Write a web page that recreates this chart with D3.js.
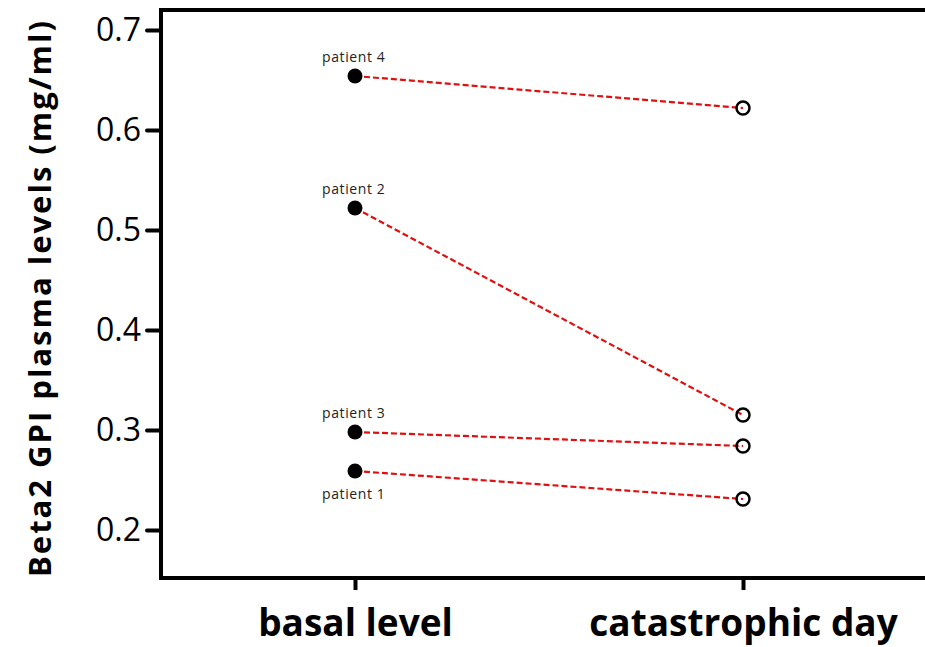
<!DOCTYPE html>
<html>
<head>
<meta charset="utf-8">
<script src="https://cdn.jsdelivr.net/npm/d3@7"></script>
<style>
  body { margin: 0; background: #fff; }
  text { font-family: "Open Sans", "Noto Sans", sans-serif; }
</style>
</head>
<body>
<div id="chart"></div>
<script>
const groups = ['basal level', 'catastrophic day']
const patients = ['patient 1', 'patient 2', 'patient 3', 'patient 4']
const basal = [0.259, 0.522, 0.298, 0.654]
const catastrophic = [0.231, 0.315, 0.284, 0.622]
const yTicks = [0.2, 0.3, 0.4, 0.5, 0.6, 0.7]

const w = 925, h = 647
const plotLeft = 161, plotTop = 10, plotBottom = 578

const svg = d3.select('#chart').append('svg')
              .attr('width', w)
              .attr('height', h)

const yScale = d3.scaleLinear()
                 .domain([0.152, 0.72])
                 .range([plotBottom, plotTop])

const xScale = d3.scalePoint()
                 .domain(groups)
                 .range([355, 743])

// frame: left, top and bottom only
svg.append('path')
   .attr('d', `M${w + 5},${plotTop} H${plotLeft} V${plotBottom} H${w + 5}`)
   .attr('fill', 'none')
   .attr('stroke', '#000')
   .attr('stroke-width', 4)

const yAxis = svg.append('g')
                 .attr('transform', `translate(${plotLeft}, 0)`)
                 .call(d3.axisLeft(yScale).tickValues(yTicks).tickSize(14).tickPadding(6).tickFormat(d3.format('.1f')))
yAxis.select('.domain').remove()
yAxis.selectAll('.tick line').attr('stroke-width', 4).attr('stroke-linecap', 'round')
yAxis.selectAll('.tick text').attr('font-size', 32).attr('fill', '#000')
     .style('font-family', '"Open Sans", sans-serif')

const xAxis = svg.append('g')
                 .attr('transform', `translate(0, ${plotBottom})`)
                 .call(d3.axisBottom(xScale).tickSize(12).tickPadding(20))
xAxis.select('.domain').remove()
xAxis.selectAll('.tick line').attr('stroke-width', 4)
xAxis.selectAll('.tick text').attr('font-size', 37).attr('font-weight', 'bold').attr('fill', '#000')
     .style('font-family', '"Open Sans", sans-serif')

svg.append('text')
   .attr('transform', 'rotate(-90)')
   .attr('x', -299)
   .attr('y', 51)
   .attr('text-anchor', 'middle')
   .attr('font-size', 31)
   .attr('font-weight', 'bold')
   .attr('textLength', 556)
   .attr('lengthAdjust', 'spacing')
   .text('Beta2 GPI plasma levels (mg/ml)')

const rows = patients.map((p, i) => ({ name: p, a: basal[i], b: catastrophic[i] }))

svg.selectAll('.link')
   .data(rows)
   .enter()
   .append('line')
   .attr('x1', xScale(groups[0]))
   .attr('x2', xScale(groups[1]))
   .attr('y1', (d) => yScale(d.a))
   .attr('y2', (d) => yScale(d.b))
   .attr('stroke', '#e01010')
   .attr('stroke-width', 2.2)
   .attr('stroke-dasharray', '6,3')

svg.selectAll('.filled')
   .data(rows)
   .enter()
   .append('circle')
   .attr('cx', xScale(groups[0]))
   .attr('cy', (d) => yScale(d.a))
   .attr('r', 7.5)
   .attr('fill', '#000')

svg.selectAll('.open')
   .data(rows)
   .enter()
   .append('circle')
   .attr('cx', xScale(groups[1]))
   .attr('cy', (d) => yScale(d.b))
   .attr('r', 6.5)
   .attr('fill', 'none')
   .attr('stroke', '#000')
   .attr('stroke-width', 2.5)

svg.selectAll('.plabel')
   .data(rows)
   .enter()
   .append('text')
   .attr('x', xScale(groups[0]) - 33)
   // patient 1 sits below its dot, the rest above
   .attr('y', (d) => d.name === 'patient 1' ? yScale(d.a) + 28 : yScale(d.a) - 14)
   .attr('font-size', 14)
   .attr('letter-spacing', 0.6)
   .attr('fill', '#222')
   .text((d) => d.name)
</script>
</body>
</html>
